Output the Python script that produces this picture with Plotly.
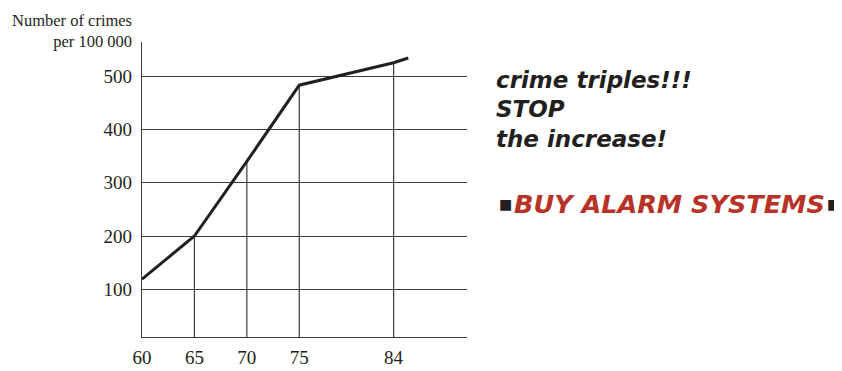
import plotly.graph_objects as go

# data
years = [60, 65, 70, 75, 84, 85.4]
crimes = [119, 200, 340, 483, 525, 534]
tick_years = [60, 65, 70, 75, 84]
tick_crimes = [100, 200, 300, 400, 500]
drop_years = [65, 70, 75, 84]

# the page puts the figure 8px in from the top-left corner
OFF = 8
W, H = 842 - OFF, 371 - OFF
L, R, T, B = 142 - OFF, 375, 42 - OFF, 34
X_RANGE = [60, 91]
Y_RANGE = [10.5, 564]

INK = "#231f20"
RED = "#b83228"
SERIF = "Liberation Serif, Times New Roman, serif"
SANS = "DejaVu Sans, sans-serif"


def px(x):
    # screen column -> paper x
    return (x - OFF - L) / (W - L - R)


def py(y):
    # screen row -> paper y
    return (H - B - (y - OFF)) / (H - T - B)


fig = go.Figure()

# vertical drop lines from the x axis up to the curve
drop_x, drop_y = [], []
for yr in drop_years:
    v = crimes[years.index(yr)]
    drop_x += [yr, yr, None]
    drop_y += [Y_RANGE[0], v, None]
fig.add_trace(go.Scatter(
    x=drop_x, y=drop_y, mode="lines",
    line=dict(color="#3a3a3a", width=1.2),
    hoverinfo="skip", showlegend=False
))

# the crime curve
fig.add_trace(go.Scatter(
    x=years, y=crimes, mode="lines",
    line=dict(color=INK, width=3),
    showlegend=False, name="crimes"
))

fig.update_xaxes(
    range=X_RANGE, tickvals=tick_years, ticktext=[str(t) for t in tick_years],
    showgrid=False, zeroline=False, showline=True, linecolor="#3a3a3a",
    linewidth=1.2, ticks="", automargin=False, ticklabelstandoff=3,
    tickfont=dict(family=SERIF, size=19, color=INK),
)
fig.update_yaxes(
    range=Y_RANGE, tickvals=tick_crimes,
    showgrid=True, gridcolor="#3a3a3a", gridwidth=1.2, zeroline=False,
    showline=True, linecolor="#3a3a3a", linewidth=1.2, ticks="",
    automargin=False, ticklabelstandoff=5,
    tickfont=dict(family=SERIF, size=19, color=INK),
)

fig.add_annotation(
    text="Number of crimes<br>per 100 000", x=px(134), y=py(9),
    xref="paper", yref="paper", xanchor="right", yanchor="top",
    align="right", showarrow=False,
    font=dict(family=SERIF, size=16.5, color=INK))
for label, row in [("crime triples!!!", 80), ("STOP", 109), ("the increase!", 139)]:
    fig.add_annotation(
        text=f"<b><i>{label}</i></b>", x=px(494), y=py(row),
        xref="paper", yref="paper", xanchor="left", yanchor="middle",
        showarrow=False, font=dict(family=SANS, size=23, color=INK))
fig.add_annotation(
    text="<b><i>BUY ALARM SYSTEMS</i></b>", x=px(669), y=py(204),
    xref="paper", yref="paper", xanchor="center", yanchor="middle",
    showarrow=False, borderpad=0, font=dict(family=SANS, size=25.5, color=RED))
for sx in (505, 833):
    fig.add_annotation(
        text="■", x=px(sx), y=py(204), xref="paper", yref="paper",
        xanchor="center", yanchor="middle", showarrow=False, borderpad=0,
        font=dict(family="DejaVu Sans", size=14, color=INK))

fig.update_layout(
    width=W, height=H,
    margin=dict(l=L, r=R, t=T, b=B, autoexpand=False),
    plot_bgcolor="white", paper_bgcolor="white",
    showlegend=False,
)

fig.write_html("out.html")
